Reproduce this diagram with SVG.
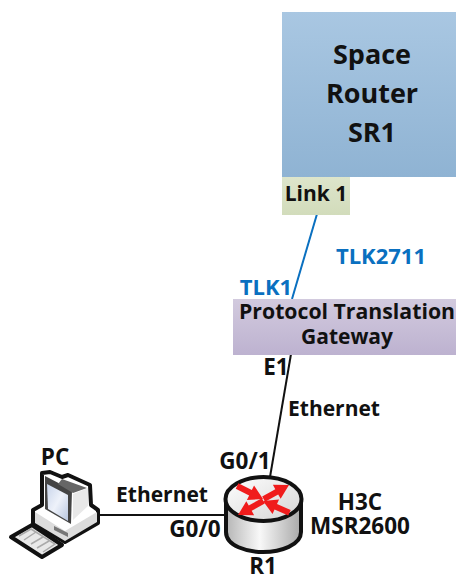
<svg xmlns="http://www.w3.org/2000/svg" width="456" height="574" viewBox="0 0 456 574">
<style>
text{font-family:"Open Sans","Noto Sans",sans-serif;font-weight:700;fill:#111;text-anchor:middle}
.s{font-size:21px}
.m{font-size:22.500px}
.t{font-size:22px;fill:#0a70c0}
.l{font-size:27px}
.arrow{fill:#f01c1c;stroke:none}
</style>
<defs>
<linearGradient id="blue" x1="0" y1="0" x2="0" y2="1"><stop offset="0" stop-color="#a9c7e2"/><stop offset="1" stop-color="#8fb3d3"/></linearGradient>
<linearGradient id="green" x1="0" y1="0" x2="0" y2="1"><stop offset="0" stop-color="#dde5cb"/><stop offset="1" stop-color="#d2dcbb"/></linearGradient>
<linearGradient id="purple" x1="0" y1="0" x2="0" y2="1"><stop offset="0" stop-color="#d2cade"/><stop offset="1" stop-color="#bdb2d0"/></linearGradient>
<linearGradient id="cyl" x1="0" y1="0" x2="1" y2="0"><stop offset="0" stop-color="#b5b5b5"/><stop offset="0.45" stop-color="#f8f8f8"/><stop offset="1" stop-color="#a8a8a8"/></linearGradient>
<linearGradient id="top" x1="0" y1="0" x2="1" y2="1"><stop offset="0" stop-color="#ffffff"/><stop offset="1" stop-color="#d4d4d4"/></linearGradient>
<linearGradient id="screen" x1="0" y1="0" x2="1" y2="1"><stop offset="0" stop-color="#c8d4ea"/><stop offset="0.5" stop-color="#eef2fa"/><stop offset="1" stop-color="#b8c6e0"/></linearGradient>
<path id="ra" class="arrow" d="M0 0 L-14 8 L-14 3 L-29 3 L-29 -3 L-14 -3 L-14 -8 Z"/>
</defs>
<g id="connectors" fill="none">
<line x1="317" y1="214" x2="292" y2="299" stroke="#0a70c0" stroke-width="2"/>
<line x1="291" y1="354" x2="270" y2="477" stroke="#111" stroke-width="2"/>
<line x1="99" y1="515" x2="226" y2="515" stroke="#111" stroke-width="2"/>
</g>
<g id="space-router">
<rect x="282" y="12" width="174" height="165" fill="url(#blue)"/>
<text class="l" x="372" y="64">Space</text>
<text class="l" x="372" y="103">Router</text>
<text class="l" x="372" y="142">SR1</text>
</g>
<g id="link1">
<rect x="282" y="177" width="68" height="38" fill="url(#green)"/>
<text class="s" x="316" y="201">Link 1</text>
</g>
<g id="gateway">
<rect x="233" y="299" width="223" height="56" fill="url(#purple)"/>
<text class="s" x="347" y="319" textLength="216" lengthAdjust="spacingAndGlyphs">Protocol Translation</text>
<text class="s" x="347" y="344">Gateway</text>
</g>
<g id="labels">
<text class="t" x="381" y="264">TLK2711</text>
<text class="t" x="266" y="295">TLK1</text>
<text class="m" x="276" y="375">E1</text>
<text class="s" x="334" y="416">Ethernet</text>
<text class="s" x="162" y="502">Ethernet</text>
<text class="m" x="195" y="537">G0/0</text>
<text class="m" x="245" y="469">G0/1</text>
</g>
<g id="pc">
<text class="m" x="55" y="465">PC</text>
<path d="M42 473 L50 472 L62 477 L68 475 L90 485 L91 505 L98 510 L98 523 L65 542 L33 523 L33 510 L42 505 Z" fill="#fff" stroke="#111" stroke-width="4" stroke-linejoin="round"/>
<path d="M35 512 L65 531 L97 512 L97 522 L65 541 L35 523 Z" fill="#dcdcdc"/>
<path d="M45 476 L72 490 L71 524 L45 509 Z" fill="#444"/>
<path d="M47 484 L68 495 L68 521 L48 509 Z" fill="url(#screen)"/>
<path d="M62 479 L87 488 L73 493 L58 484 Z" fill="#666"/>
<path d="M73 494 L88 488 L88 506 L73 520 Z" fill="#e8e8e8"/>
<path d="M54 526 L68 533 L68 537 L54 530 Z" fill="#777"/>
<path d="M11 537 L32 525 L62 545 L42 557 Z" fill="#e8e8e8" stroke="#111" stroke-width="4" stroke-linejoin="round"/>
<path d="M19 536 L31 529 L55 544 L43 552 M24 540 L36 532 M31 544 L43 537 M37 548 L49 541" fill="none" stroke="#aaa" stroke-width="1.500"/>
</g>
<g id="r1">
<path d="M226 498 V532 C226 546 247 552 263 552 C281 552 301 545 301 532 V498 Z" fill="url(#cyl)" stroke="#111" stroke-width="4"/>
<ellipse cx="263.500" cy="499" rx="38" ry="22" fill="url(#top)" stroke="#111" stroke-width="4"/>
<use href="#ra" transform="translate(263 499) rotate(26.600)"/>
<use href="#ra" transform="translate(289 485) rotate(-29)"/>
<use href="#ra" transform="translate(238 515) rotate(150.800)"/>
<use href="#ra" transform="translate(263 501) rotate(204)"/>
<text class="m" x="263" y="574">R1</text>
</g>
<g id="h3c">
<text class="m" x="360" y="510">H3C</text>
<text class="m" x="360" y="534">MSR2600</text>
</g>
</svg>
